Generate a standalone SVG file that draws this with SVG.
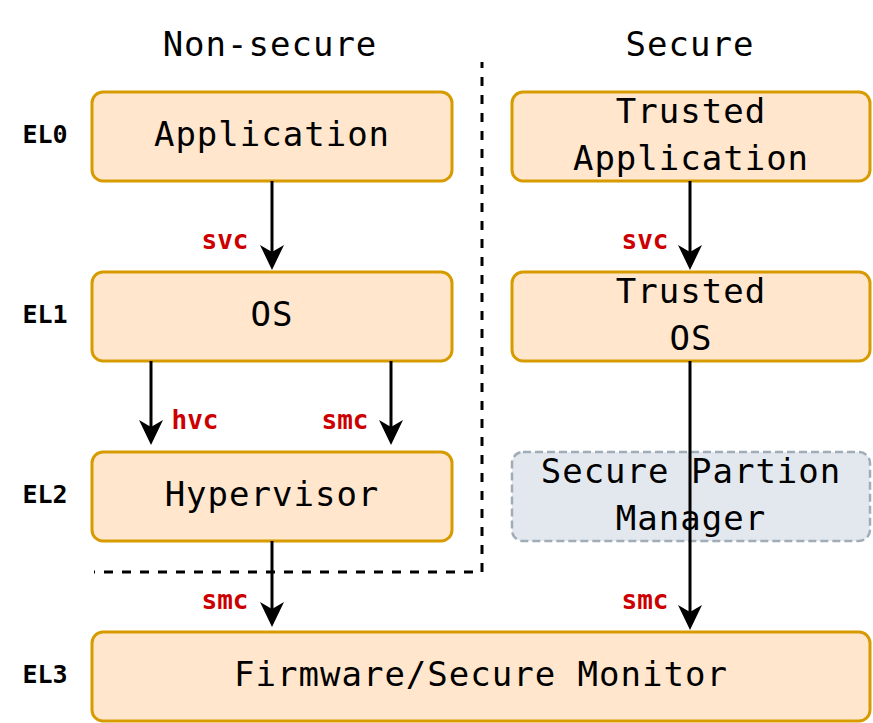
<svg xmlns="http://www.w3.org/2000/svg" width="873" height="723" viewBox="0 0 873 723">
<style>
.box{fill:#FFE6CC;stroke:#D79B00;stroke-width:3}
.spm{fill:#E3E8EE;stroke:#A0ACB8;stroke-width:2.5;stroke-dasharray:8 4}
.t{font-family:"DejaVu Sans Mono",monospace;font-size:34px;letter-spacing:1px;fill:#000;text-anchor:middle}
.el{font-family:"DejaVu Sans Mono",monospace;font-size:25px;font-weight:bold;fill:#000;text-anchor:middle}
.lbl{font-family:"DejaVu Sans Mono",monospace;font-size:26px;font-weight:bold;fill:#CC0000;text-anchor:middle}
.arr{fill:none;stroke:#000;stroke-width:3;marker-end:url(#ah)}
.sep{fill:none;stroke:#000;stroke-width:3;stroke-dasharray:9 9;stroke-dashoffset:3}
</style>
<defs>
<marker id="ah" markerUnits="userSpaceOnUse" viewBox="0 -13 26 26" markerWidth="26" markerHeight="26" refX="10" refY="0" orient="auto" overflow="visible">
<path d="M25,0 L0,-12 L7,0 L0,12 Z" fill="#000"/>
</marker>
</defs>
<rect width="873" height="723" fill="#fff"/>
<g id="headers">
<text class="t" x="270" y="56">Non-secure</text>
<text class="t" x="690" y="56">Secure</text>
</g>
<g id="levels">
<text class="el" x="45" y="143">EL0</text>
<text class="el" x="45" y="323">EL1</text>
<text class="el" x="45" y="503">EL2</text>
<text class="el" x="45" y="683">EL3</text>
</g>
<g id="separator">
<path class="sep" d="M482,62 L482,572 L94,572"/>
</g>
<g id="application">
<rect class="box" x="92" y="92" width="360" height="89" rx="11"/>
<text class="t" x="272" y="146">Application</text>
</g>
<g id="trusted-application">
<rect class="box" x="512" y="92" width="358" height="89" rx="11"/>
<text class="t" x="691" y="123">Trusted</text>
<text class="t" x="691" y="170">Application</text>
</g>
<g id="os">
<rect class="box" x="92" y="272" width="360" height="89" rx="11"/>
<text class="t" x="272" y="326">OS</text>
</g>
<g id="trusted-os">
<rect class="box" x="512" y="272" width="358" height="89" rx="11"/>
<text class="t" x="691" y="303">Trusted</text>
<text class="t" x="691" y="350">OS</text>
</g>
<g id="hypervisor">
<rect class="box" x="92" y="452" width="360" height="89" rx="11"/>
<text class="t" x="272" y="506">Hypervisor</text>
</g>
<g id="secure-partition-manager">
<rect class="spm" x="512" y="452" width="358" height="89" rx="11"/>
<text class="t" x="691" y="483">Secure Partion</text>
<text class="t" x="691" y="530">Manager</text>
</g>
<g id="firmware">
<rect class="box" x="92" y="632" width="778" height="89" rx="11"/>
<text class="t" x="481" y="686">Firmware/Secure Monitor</text>
</g>
<g id="connectors">
<path class="arr" d="M272,181 L272,255"/>
<path class="arr" d="M151,361 L151,430"/>
<path class="arr" d="M391,361 L391,430"/>
<path class="arr" d="M272,541 L272,612"/>
<path class="arr" d="M690,181 L690,255"/>
<path class="arr" d="M690,361 L690,615"/>
<text class="lbl" x="225" y="249">svc</text>
<text class="lbl" x="195" y="429">hvc</text>
<text class="lbl" x="345" y="429">smc</text>
<text class="lbl" x="225" y="609">smc</text>
<text class="lbl" x="645" y="249">svc</text>
<text class="lbl" x="645" y="609">smc</text>
</g>
</svg>
